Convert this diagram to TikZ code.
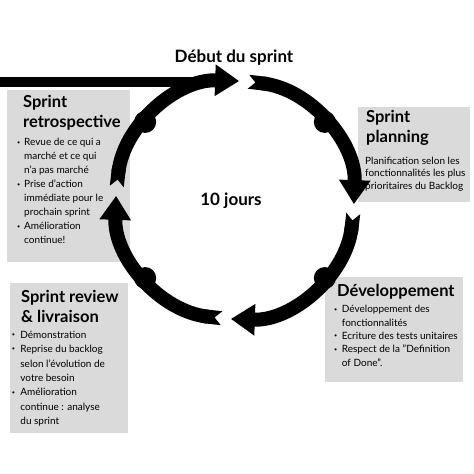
\documentclass[tikz,border=0pt]{standalone}
\usepackage{fontspec}
\setmainfont{Lato}
\usepackage{xcolor}
\usetikzlibrary{arrows.meta}
\definecolor{boxgray}{RGB}{218,218,218}
\newlength{\bulw}
\newcommand{\bb}{\makebox[\bulw][l]{\raisebox{1.8pt}{\scalebox{0.55}{\textbullet}}}}

\begin{document}
\begin{tikzpicture}[
  x=1pt, y=1pt,
  panel/.style={fill=boxgray, inner sep=0pt, anchor=north west},
  head/.style={anchor=base west, inner sep=0pt, align=left, font=\fontsize{16.5}{20.5}\selectfont\bfseries},
  list/.style={anchor=base west, inner sep=0pt, font=\fontsize{10}{#1}\selectfont},
  title/.style={anchor=base, inner sep=0pt, font=\fontsize{17}{20}\selectfont\bfseries},
  ring/.style={line width=14pt, {Triangle Cap[reversed]}-{Triangle[width=30pt,length=24pt]}},
  knot/.style={circle, fill=black, minimum size=22pt, inner sep=0pt}
]
\useasboundingbox (0,0) rectangle (474,474);

\node[panel, minimum width=123pt, minimum height=172pt] (retroBox) at (7,384) {};
\node[panel, minimum width=112pt, minimum height=95pt] (planBox) at (358,367) {};
\node[panel, minimum width=138pt, minimum height=105pt] (devBox) at (325,197) {};
\node[panel, minimum width=118pt, minimum height=150pt] (reviewBox) at (10,191) {};

\coordinate (c) at (235,274);
\coordinate (entry) at (0,392);
\coordinate (join) at (222,392);
\coordinate (s1) at ([shift={(83.5:119)}]c);
\coordinate (s2) at ([shift={(-6.5:119)}]c);
\coordinate (s3) at ([shift={(-96.5:119)}]c);
\coordinate (s4) at ([shift={(173.5:119)}]c);

\draw[line width=10pt] (entry) -- (join);
\draw[ring] (s1) arc[start angle=83.5, end angle=-2, radius=119];
\draw[ring] (s2) arc[start angle=-6.5, end angle=-92, radius=119];
\draw[ring] (s3) arc[start angle=-96.5, end angle=-182, radius=119];
\draw[ring] (s4) arc[start angle=173.5, end angle=88, radius=119];

\node[knot] (k1) at ([shift={(41:119)}]c) {};
\node[knot] (k2) at ([shift={(139:119)}]c) {};
\node[knot] (k3) at ([shift={(221:119)}]c) {};
\node[knot] (k4) at ([shift={(319:119)}]c) {};

\node[title] (start) at (234,411.5) {Début du sprint};
\node[title] (days) at (231,268) {10 jours};

\node[head] (retroHead) at (23,346) {Sprint\\retrospective};
\node[list=14] (retroList) at (17,328) {\setlength{\bulw}{7pt}%
  \begin{tabular}[t]{@{}l@{}l@{}}
  \bb & Revue de ce qui a\\ & marché et ce qui\\ & n'a pas marché\\
  \bb & Prise d'action\\ & immédiate pour le\\ & prochain sprint\\
  \bb & Amélioration\\ & continue!
  \end{tabular}};

\node[head] (planHead) at (366,331) {Sprint\\planning};
\node[list=12.5] (planList) at (365,309.5) {%
  \begin{tabular}[t]{@{}l@{}}
  Planification selon les\\fonctionnalités les plus\\prioritaires du Backlog
  \end{tabular}};

\node[head] (devHead) at (337,177) {Développement};
\node[list=13.3] (devList) at (334,161) {\setlength{\bulw}{7.7pt}%
  \begin{tabular}[t]{@{}l@{}l@{}}
  \bb & Développement des\\ & fonctionnalités\\
  \bb & Ecriture des tests unitaires\\
  \bb & Respect de la "Definition\\ & of Done".
  \end{tabular}};

\node[head] (reviewHead) at (21,151) {Sprint review\\\& livraison};
\node[list=14.4] (reviewList) at (11.7,135.7) {\setlength{\bulw}{8.5pt}%
  \begin{tabular}[t]{@{}l@{}l@{}}
  \bb & Démonstration\\
  \bb & Reprise du backlog\\ & selon l'évolution de\\ & votre besoin\\
  \bb & Amélioration\\ & continue : analyse\\ & du sprint
  \end{tabular}};
\end{tikzpicture}
\end{document}
